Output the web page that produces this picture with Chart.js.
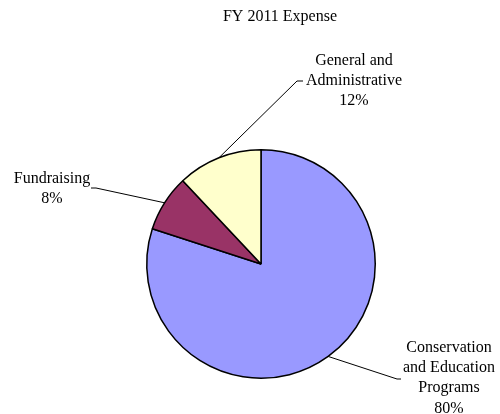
<!DOCTYPE html>
<html>
<head>
<meta charset="utf-8">
<script src="https://cdn.jsdelivr.net/npm/chart.js@4/dist/chart.umd.min.js"></script>
<style>
  html, body { margin: 0; padding: 0; background: #fff; }
  #wrap { width: 500px; height: 414px; position: relative; }
</style>
</head>
<body>
<div id="wrap"><canvas id="pie"></canvas></div>
<script>
// --- data ---
const chartTitle = 'FY 2011 Expense';
const categories = ['Conservation and Education Programs', 'Fundraising', 'General and Administrative'];
const shares = [80, 8, 12];
const labelLines = [
    ['Conservation', 'and Education', 'Programs'],
    ['Fundraising'],
    ['General and', 'Administrative']
];
const sliceColors = ['#9999FF', '#993366', '#FFFFCC'];

// where each data label sits (text centre x, first baseline y) and where its leader line ends
const labelPlacement = [
    { x: 449, y: 352, lineTo: [397, 379], elbow: 401 },
    { x: 52, y: 183, lineTo: [96, 188], elbow: 91 },
    { x: 354, y: 65, lineTo: [297, 81], elbow: 303 }
];

const FONT = '16px "Liberation Serif", "Times New Roman", serif';

// --- labels, leader lines and title ---
const pieLabels = {
    id: 'pieLabels',
    afterDraw(chart) {
        const ctx = chart.ctx;
        const meta = chart.getDatasetMeta(0);
        const total = shares.reduce((a, b) => a + b, 0);
        ctx.save();
        ctx.font = FONT;
        ctx.fillStyle = '#000';
        ctx.textAlign = 'center';
        ctx.textBaseline = 'alphabetic';
        ctx.fillText(chartTitle, 280, 21);

        meta.data.forEach((arc, i) => {
            const p = labelPlacement[i];
            const mid = (arc.startAngle + arc.endAngle) / 2;
            const sx = arc.x + Math.cos(mid) * arc.outerRadius;
            const sy = arc.y + Math.sin(mid) * arc.outerRadius;

            // leader line
            ctx.strokeStyle = '#000';
            ctx.lineWidth = 1;
            ctx.beginPath();
            ctx.moveTo(sx, sy);
            ctx.lineTo(p.lineTo[0], p.lineTo[1]);
            ctx.lineTo(p.elbow, p.lineTo[1]);
            ctx.stroke();

            // text
            const lines = labelLines[i].concat([Math.round(shares[i] / total * 100) + '%']);
            lines.forEach((t, k) => {
                ctx.fillText(t, p.x, p.y + k * 20.2);
            });
        });
        ctx.restore();
    }
};

new Chart(document.getElementById('pie'), {
    type: 'pie',
    data: {
        labels: categories,
        datasets: [{
            data: shares,
            backgroundColor: sliceColors,
            borderColor: '#000',
            borderWidth: 1.5,
            hoverOffset: 0
        }]
    },
    options: {
        responsive: true,
        maintainAspectRatio: false,
        animation: false,
        layout: { padding: { left: 146, right: 124, top: 149, bottom: 35 } },
        plugins: {
            legend: { display: false },
            title: { display: false },
            tooltip: { enabled: false }
        }
    },
    plugins: [pieLabels]
});
</script>
</body>
</html>
